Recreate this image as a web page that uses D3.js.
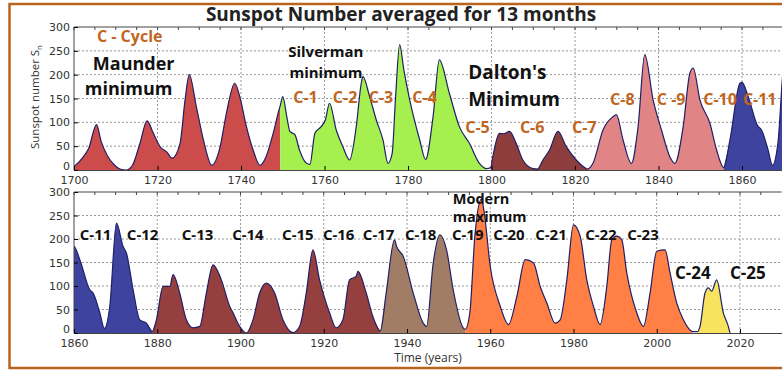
<!DOCTYPE html>
<html>
<head>
<meta charset="utf-8">
<script src="https://cdn.jsdelivr.net/npm/d3@7"></script>
<style>
  body { margin: 0; background: #fff; }
  svg { display: block; }
  .tick text { font-family: "DejaVu Sans", sans-serif; font-size: 11px; fill: #333; }
</style>
</head>
<body>
<div id="chart"></div>
<script>
// 13-month smoothed sunspot number as [year, value]
var maunder = [[1700,7],[1702,25],[1703.5,45],[1705.4,95],[1706.5,60],[1708,30],[1709.5,12],[1711,2],[1712.5,0],[1714,10],
  [1715.8,56],[1717.5,103],[1719,77],[1720.6,49],[1722.2,38],[1723.5,25],[1725.4,56],[1726.6,147],[1727.6,200],[1729.3,133],
  [1731,63],[1733,10],[1735,49],[1736.5,119],[1738.5,182],[1739.7,154],[1741.3,91],[1742.9,42],[1744.5,10],[1746,28],
  [1747.7,77],[1749.1,126],[1749.4,135]];
var silverman = [[1749.4,135],[1750,154],[1751,110],[1751.7,81],[1752.9,74],[1754,42],[1755.7,14],[1756.5,12],[1757.7,77],
  [1759.2,91],[1760.2,105],[1761.2,140],[1762.8,84],[1764.4,49],[1766,21],[1767.6,91],[1768.8,182],[1769.2,196],[1770.8,154],
  [1772.4,105],[1774,63],[1775.2,14],[1776.2,35],[1777,150],[1778,263],[1779,210],[1780.4,147],[1782.8,63],[1784.2,22],
  [1786,112],[1787.5,231],[1789.9,161],[1792.3,91],[1794.7,56],[1797.1,14],[1798.8,3]];
var dalton = [[1799.8,5],[1800.3,28],[1801.9,77],[1803,76],[1804.3,81],[1805.9,56],[1807.5,21],[1809.9,3],[1811,2],
  [1812.3,21],[1813.9,42],[1815.9,81],[1817.9,49],[1820.3,21],[1822.7,3],[1823,2]];
var cycles7to10 = [[1823,2],[1824.3,14],[1826.7,84],[1829.1,112],[1829.9,116],[1831.5,63],[1833.5,14],[1835.1,91],
  [1836.7,242],[1838.7,147],[1840.7,84],[1842.7,28],[1843.9,14],[1845.9,91],[1847.5,203],[1848.3,214],[1849.9,147],
  [1852.3,98],[1853.9,42],[1855.6,5]];
var cycles11to12 = [[1855.6,5],[1857.1,63],[1859.5,182],[1860,184],[1861.4,156],[1863.8,92],[1864.6,85],[1866.2,43],
  [1867.3,10],[1868.6,57],[1870.2,234],[1871.8,184],[1872.6,170],[1874.2,92],[1875.8,28],[1877.4,21],[1878.8,3]];
var cycles13to16 = [[1878.8,3],[1879.8,28],[1881.4,99],[1883,99],[1883.8,124],[1885.4,85],[1887,28],[1888.6,11],
  [1890.2,14],[1891.8,85],[1893.4,145],[1895.4,113],[1897.4,57],[1898.2,43],[1899.8,14],[1901.4,0],[1903,28],[1904.6,85],
  [1906.2,106],[1908.2,85],[1910.2,28],[1912.6,1],[1914.2,14],[1915.8,85],[1917.4,177],[1919,113],[1921.4,43],[1923,11],
  [1924.6,28],[1926.2,113],[1927.8,121],[1928.2,131],[1930.2,85],[1931.8,35],[1933.6,4]];
var cycles17to18 = [[1933.6,4],[1935,85],[1937,198],[1937.5,184],[1939.1,163],[1941.5,85],[1943.9,21],[1944.7,14],
  [1946.3,149],[1947.9,209],[1949.5,177],[1951.1,92],[1953.5,11],[1954,8]];
var modern = [[1954,8],[1955.1,43],[1956.3,206],[1957.9,285],[1958.5,260],[1960,142],[1962.4,57],[1964.4,18],[1966.4,78],
  [1968.4,156],[1970.4,149],[1972,99],[1973.6,64],[1975.6,21],[1976.8,28],[1978.4,113],[1980,230],[1981.6,206],[1983.2,113],
  [1984.8,57],[1986.4,18],[1988,99],[1989.2,198],[1990.4,206],[1991.6,198],[1992.8,128],[1995.2,43],[1996.8,14],[1998.4,85],
  [2000,174],[2002,177],[2003.2,128],[2004.8,64],[2006.4,28],[2008.6,3]];
var cycle24 = [[2009.8,3],[2010.4,14],[2011.6,85],[2012.4,96],[2013.2,89],[2014.4,113],[2016,43],[2017.2,14],[2017.6,0]];

var segments = [
  { data: maunder, color: "#cc4b4b" },
  { data: silverman, color: "#a5ef4f" },
  { data: dalton, color: "#8e3d3d" },
  { data: cycles7to10, color: "#e08486" },
  { data: cycles11to12, color: "#3f43a0" },
  { data: cycles13to16, color: "#963f3f" },
  { data: cycles17to18, color: "#a27d66" },
  { data: modern, color: "#ff7f45" },
  { data: cycle24, color: "#f8e35e" }
];
var allPoints = d3.merge(segments.map(function (s) { return s.data; }));

var yTicks = [0, 50, 100, 150, 200, 250, 300];
var topXTicks = [1700, 1720, 1740, 1760, 1780, 1800, 1820, 1840, 1860];
var bottomXTicks = [1860, 1880, 1900, 1920, 1940, 1960, 1980, 2000, 2020];

// top panel labels: [text, x-year, y-value, color, size]
var topLabels = [
  ["C - Cycle", 1705.5, 268, "#c0661f", 16],
  ["Maunder", 1704.5, 210, "#111", 18],
  ["minimum", 1702.6, 157, "#111", 18],
  ["Silverman", 1751.3, 237, "#111", 15],
  ["minimum", 1751.6, 193, "#111", 15],
  ["C-1", 1752.5, 140, "#c0661f", 16],
  ["C-2", 1762, 140, "#c0661f", 16],
  ["C-3", 1770.6, 140, "#c0661f", 16],
  ["C-4", 1781, 140, "#c0661f", 16],
  ["Dalton's", 1794.4, 190, "#111", 19],
  ["Minimum", 1794.4, 134, "#111", 19],
  ["C-5", 1793.7, 77, "#c0661f", 16],
  ["C-6", 1806.8, 77, "#c0661f", 16],
  ["C-7", 1819.3, 77, "#c0661f", 16],
  ["C-8", 1828.4, 136, "#c0661f", 16],
  ["C -9", 1839.6, 136, "#c0661f", 16],
  ["C-10", 1850.7, 136, "#c0661f", 16],
  ["C-11", 1860.2, 136, "#c0661f", 16]
];
var bottomLabels = [
  ["C-11", 1861.4, 198, 15], ["C-12", 1872.7, 198, 15], ["C-13", 1885.9, 198, 15], ["C-14", 1898, 198, 15],
  ["C-15", 1910, 198, 15], ["C-16", 1919.8, 198, 15], ["C-17", 1929.4, 198, 15], ["C-18", 1939.5, 198, 15],
  ["C-19", 1950.8, 198, 15], ["C-20", 1960.7, 198, 15], ["C-21", 1970.8, 198, 15], ["C-22", 1982.8, 198, 15],
  ["C-23", 1992.9, 198, 15], ["C-24", 2004.4, 115, 17], ["C-25", 2017.6, 115, 17],
  ["Modern", 1951, 274, 14.5], ["maximum", 1951, 237, 14.5]
];

var W = 782, H = 370;
var svg = d3.select("#chart").append("svg").attr("width", W).attr("height", H)
  .style("font-family", "'Open Sans', sans-serif");

// outer frame
svg.append("rect").attr("x", 9.5).attr("y", 4).attr("width", 800).attr("height", 364)
  .attr("fill", "none").attr("stroke", "#b8641f").attr("stroke-width", 2.5);

svg.append("text").attr("x", 401).attr("y", 21).attr("text-anchor", "middle")
  .attr("font-size", 19).attr("font-weight", "bold").attr("fill", "#222")
  .text("Sunspot Number averaged for 13 months");

function drawPanel(domain, xRange, yRange, xTicks, id) {
  var x = d3.scaleLinear().domain(domain).range(xRange);
  var y = d3.scaleLinear().domain([0, 300]).range(yRange);
  var g = svg.append("g");

  g.append("clipPath").attr("id", id).append("rect")
    .attr("x", xRange[0]).attr("y", yRange[1]).attr("width", xRange[1] - xRange[0]).attr("height", yRange[0] - yRange[1]);

  // grid
  g.append("g").selectAll("line").data(yTicks.slice(1, -1)).join("line")
    .attr("x1", xRange[0]).attr("x2", xRange[1]).attr("y1", function (d) { return y(d); }).attr("y2", function (d) { return y(d); })
    .attr("stroke", "#999").attr("stroke-dasharray", "2,2");
  g.append("g").selectAll("line").data(xTicks.slice(1)).join("line")
    .attr("y1", yRange[0]).attr("y2", yRange[1]).attr("x1", function (d) { return x(d); }).attr("x2", function (d) { return x(d); })
    .attr("stroke", "#999").attr("stroke-dasharray", "2,2");

  var area = d3.area().curve(d3.curveMonotoneX)
    .x(function (d) { return x(d[0]); }).y0(y(0)).y1(function (d) { return y(d[1]); });
  var line = d3.line().curve(d3.curveMonotoneX)
    .x(function (d) { return x(d[0]); }).y(function (d) { return y(d[1]); });

  var plot = g.append("g").attr("clip-path", "url(#" + id + ")");
  plot.selectAll("path.fill").data(segments).join("path").attr("class", "fill")
    .attr("d", function (s) { return area(s.data); }).attr("fill", function (s) { return s.color; });
  plot.append("path").datum(allPoints).attr("d", line)
    .attr("fill", "none").attr("stroke", "#1f1f66").attr("stroke-width", 1.2);

  // frame
  g.append("line").attr("x1", xRange[0]).attr("x2", xRange[1]).attr("y1", yRange[1]).attr("y2", yRange[1]).attr("stroke", "#444");
  g.append("line").attr("x1", xRange[0]).attr("x2", xRange[0]).attr("y1", yRange[0]).attr("y2", yRange[1]).attr("stroke", "#444");

  var xAxis = g.append("g").attr("transform", "translate(0," + yRange[0] + ")")
    .call(d3.axisBottom(x).tickValues(xTicks).tickFormat(d3.format("d")).tickSizeInner(-4).tickSizeOuter(0).tickPadding(6));
  xAxis.select(".domain").attr("stroke", "#444");
  var yAxis = g.append("g").attr("transform", "translate(" + xRange[0] + ",0)")
    .call(d3.axisLeft(y).tickValues(yTicks).tickSizeInner(-4).tickSizeOuter(0).tickPadding(4));
  yAxis.select(".domain").remove();
  // lift the zero label a little so it clears the first year label
  yAxis.selectAll(".tick text").filter(function (d) { return d === 0; }).attr("dy", "-0.05em");
  // minor ticks on top edge
  g.append("g").selectAll("line").data(d3.range(domain[0], domain[1], 5)).join("line")
    .attr("x1", function (d) { return x(d); }).attr("x2", function (d) { return x(d); })
    .attr("y1", yRange[1]).attr("y2", yRange[1] + 3).attr("stroke", "#444");
  return { x: x, y: y, g: g };
}

var topPanel = drawPanel([1700, 1870], [74, 783.8], [170, 27], topXTicks, "clipTop");
var bottomPanel = drawPanel([1860, 2030], [74, 781.6], [333, 192], bottomXTicks, "clipBottom");

topPanel.g.selectAll("text.lab").data(topLabels).join("text").attr("class", "lab")
  .attr("x", function (d) { return topPanel.x(d[1]); }).attr("y", function (d) { return topPanel.y(d[2]); })
  .attr("fill", function (d) { return d[3]; }).attr("font-size", function (d) { return d[4]; })
  .attr("font-weight", "bold").text(function (d) { return d[0]; });

bottomPanel.g.selectAll("text.lab").data(bottomLabels).join("text").attr("class", "lab")
  .attr("x", function (d) { return bottomPanel.x(d[1]); }).attr("y", function (d) { return bottomPanel.y(d[2]); })
  .attr("fill", "#111").attr("font-size", function (d) { return d[3]; })
  .attr("font-weight", "bold").text(function (d) { return d[0]; });

var ylab = svg.append("text").attr("transform", "translate(39,97) rotate(-90)")
  .attr("text-anchor", "middle").attr("font-size", 11.5).attr("fill", "#333");
ylab.append("tspan").text("Sunspot number S");
ylab.append("tspan").attr("font-size", 8).attr("dy", 3).text("n");

svg.append("text").attr("x", 428).attr("y", 362).attr("text-anchor", "middle")
  .attr("font-size", 12).attr("fill", "#333").text("Time (years)");
</script>
</body>
</html>
